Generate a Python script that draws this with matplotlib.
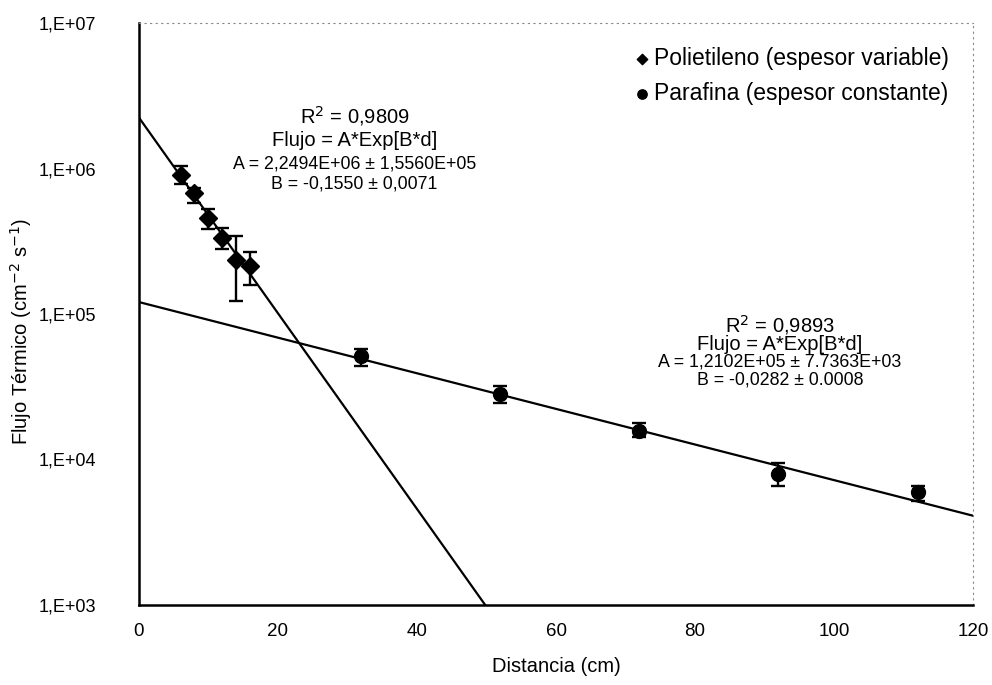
import numpy as np
import matplotlib
matplotlib.use('Agg')
import matplotlib.pyplot as plt

plt.rcParams['font.family'] = ['Liberation Sans', 'DejaVu Sans']

# Polietileno (espesor variable)
poli_x = [6, 8, 10, 12, 14, 16]
poli_y = [9.1e5, 6.85e5, 4.55e5, 3.32e5, 2.35e5, 2.13e5]
poli_hi = [1.05e6, 7.4e5, 5.24e5, 3.88e5, 3.42e5, 2.66e5]
poli_lo = [7.9e5, 5.85e5, 3.82e5, 2.79e5, 1.23e5, 1.58e5]

# Parafina (espesor constante)
para_x = [32, 52, 72, 92, 112]
para_y = [5.15e4, 2.83e4, 1.58e4, 8.0e3, 5.95e3]
para_hi = [5.75e4, 3.21e4, 1.79e4, 9.5e3, 6.6e3]
para_lo = [4.41e4, 2.45e4, 1.42e4, 6.6e3, 5.2e3]

# fitted lines (end points)
poli_fit_x = [0, 49.8]
poli_fit_y = [2.25e6, 1.0e3]
para_fit_x = [0, 120]
para_fit_y = [1.21e5, 4.1e3]

yticks = [1e3, 1e4, 1e5, 1e6, 1e7]
ytick_labels = ['1,E+03', '1,E+04', '1,E+05', '1,E+06', '1,E+07']
xticks = [0, 20, 40, 60, 80, 100, 120]

fig = plt.figure(figsize=(9.92, 6.85), dpi=100)
ax = fig.add_axes([0.140, 0.117, 0.841, 0.849])

# fit lines
ax.plot(poli_fit_x, poli_fit_y, color='black', lw=1.6)
ax.plot(para_fit_x, para_fit_y, color='black', lw=1.6)

# data with error bars
poli_err = [np.array(poli_y) - np.array(poli_lo), np.array(poli_hi) - np.array(poli_y)]
para_err = [np.array(para_y) - np.array(para_lo), np.array(para_hi) - np.array(para_y)]
ax.errorbar(poli_x, poli_y, yerr=poli_err, fmt='D', color='black', ms=9,
            elinewidth=1.7, capsize=5, capthick=1.7)
ax.errorbar(para_x, para_y, yerr=para_err, fmt='o', color='black', ms=10,
            elinewidth=1.7, capsize=5, capthick=1.7)

ax.set_yscale('log')
ax.set_xlim(0, 120)
ax.set_ylim(1e3, 1e7)
ax.set_yticks(yticks)
ax.set_yticklabels(ytick_labels)
ax.yaxis.set_minor_locator(matplotlib.ticker.NullLocator())
ax.set_xticks(xticks)
ax.tick_params(axis='both', length=0)
ax.tick_params(axis='y', pad=31, labelsize=13)
ax.tick_params(axis='x', pad=13, labelsize=13.5)

ax.set_xlabel('Distancia (cm)', fontsize=14.5, labelpad=12)
ax.set_ylabel('Flujo Térmico (cm$^{-2}$ s$^{-1}$)', fontsize=14.5)
ax.yaxis.set_label_coords(-0.126, 0.47)

for side in ['top', 'right']:
    ax.spines[side].set_linestyle((0, (1, 4)))
    ax.spines[side].set_color('#888888')
    ax.spines[side].set_linewidth(0.8)
for side in ['left', 'bottom']:
    ax.spines[side].set_linewidth(1.8)

# fit annotations
ax.text(31, 2.3e6, 'R$^2$ = 0,9809', ha='center', va='center', fontsize=14.5)
ax.text(31, 1.57e6, 'Flujo = A*Exp[B*d]', ha='center', va='center', fontsize=14.5)
ax.text(31, 1.07e6, 'A = 2,2494E+06 ± 1,5560E+05', ha='center', va='center', fontsize=12.8)
ax.text(31, 7.8e5, 'B = -0,1550 ± 0,0071', ha='center', va='center', fontsize=12.8)

ax.text(92.2, 8.4e4, 'R$^2$ = 0,9893', ha='center', va='center', fontsize=14.5)
ax.text(92.2, 6.2e4, 'Flujo = A*Exp[B*d]', ha='center', va='center', fontsize=14.5)
ax.text(92.2, 4.68e4, 'A = 1,2102E+05 ± 7.7363E+03', ha='center', va='center', fontsize=12.8)
ax.text(92.2, 3.5e4, 'B = -0,0282 ± 0.0008', ha='center', va='center', fontsize=12.8)

# legend
h1 = ax.scatter([], [], marker='D', color='black', s=28)
h2 = ax.scatter([], [], marker='o', color='black', s=45)
ax.legend([h1, h2], ['Polietileno (espesor variable)', 'Parafina (espesor constante)'],
          loc='upper right', frameon=False, fontsize=16.5, handlelength=0.5,
          handletextpad=0.3, labelspacing=0.52, borderaxespad=0.65,
          bbox_to_anchor=(1.0, 1.0))

fig.savefig('out.png', dpi=100)
